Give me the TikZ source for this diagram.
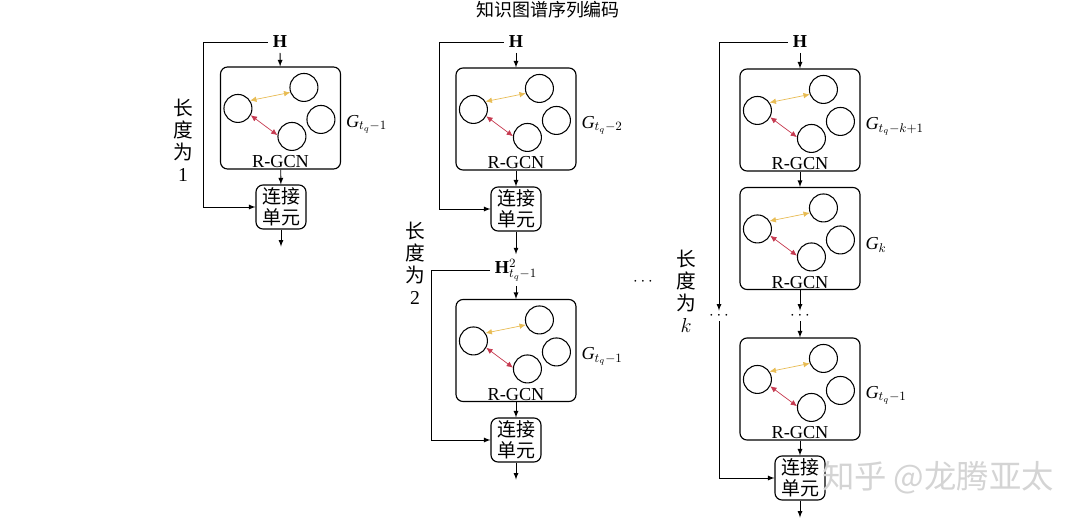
\documentclass[tikz,border=0pt]{standalone}
\usepackage{fontspec}
\setmainfont{Liberation Serif}
\newfontfamily\cjk{Noto Sans CJK SC}
\usetikzlibrary{calc,arrows.meta}
\definecolor{ygold}{RGB}{232,188,84}
\definecolor{rred}{RGB}{198,58,80}
\definecolor{wmark}{RGB}{212,212,212}
\tikzset{
 gbox/.style={draw,line width=0.8pt,rounded corners=5pt,minimum width=30mm,minimum height=25.5mm},
 nd/.style={draw,circle,line width=0.75pt,minimum size=7mm,inner sep=0pt},
 unit/.style={draw,line width=0.8pt,rounded corners=5pt,minimum width=12.5mm,minimum height=11mm,align=center,inner sep=1pt,font=\cjk\fontsize{13.5}{15}\selectfont},
 arr/.style={-latex,line width=0.6pt},
 link/.style={{Latex[length=4.5pt,width=4pt]}-{Latex[length=4.5pt,width=4pt]},line width=0.5pt},
 vlab/.style={align=center,font=\cjk\fontsize{14}{15.6}\selectfont},
 dots/.style={inner sep=1pt}
}
\begin{document}
\begin{tikzpicture}[x=0.25mm,y=-0.25mm,font=\fontsize{13}{15}\selectfont]
\useasboundingbox (0,0) rectangle (1080,520);
\node[font=\cjk\fontsize{12.8}{15}\selectfont] (ttl) at (548,10) {知识图谱序列编码};
% graph boxes
\foreach \n/\x/\y/\l in {g1/280.5/118/{\textit{G}$_{t_q-1}$},g2/516/119/{\textit{G}$_{t_q-2}$},g3/516/350.5/{\textit{G}$_{t_q-1}$},g4/800/120/{\textit{G}$_{t_q-k+1}$},g5/800/238.5/{\textit{G}$_k$},g6/800/389/{\textit{G}$_{t_q-1}$}}{
\node[gbox] (\n) at (\x,\y) {};
\foreach \c/\dx/\dy in {a/18/42,b/84/21,c/101/53,d/72/70}{\node[nd] (\n-\c) at ($(\n.north west)+(\dx,\dy)$) {};}
\draw[link,ygold] (\n-a.33)--(\n-b.200);
\draw[link,rred] (\n-a.-28)--(\n-d.175);
\node[above,inner sep=1pt] at (\n.south) {R-GCN};
\node[anchor=west] at ($(\n.east)+(0,6)$) {\l};
}
% inputs and units
\node (h1) at (280,42) {\textbf{H}};
\node (h2) at (516,42) {\textbf{H}};
\node (h3) at (800,42) {\textbf{H}};
\node (h4) at (516,270) {$\mathbf{H}^{2}_{t_q-1}$};
\node[unit] (j1) at (281,207) {连接\\单元};
\node[unit] (j2) at (516,209) {连接\\单元};
\node[unit] (j3) at (516,440) {连接\\单元};
\node[unit] (j4) at (800,478) {连接\\单元};
\node[dots] (d1) at (800,316) {$\cdots$};
\node[dots] (d2) at (719,316) {$\cdots$};
\node (d3) at (643,282) {$\cdots$};
\node[vlab] (l1) at (183,140) {长\\度\\为\\{\rmfamily 1}};
\node[vlab] (l2) at (415,263) {长\\度\\为\\{\rmfamily 2}};
\node[vlab] (l3) at (686,291) {长\\度\\为\\$k$};
\foreach \j/\o in {j1/o1,j3/o3,j4/o4}{\coordinate (\o) at ($(\j.south)+(0,17)$);}
% connectors
\foreach \a/\b in {h1/g1,g1/j1,h2/g2,g2/j2,j2/h4,h4/g3,g3/j3,h3/g4,g4/g5,g5/d1,d1/g6,g6/j4,j1/o1,j3/o3,j4/o4}{\draw[arr] (\a)--(\b);}
\draw[arr] (h1.west)--++(-65,0)|-(j1.west);
\draw[arr] (h2.west)--++(-65,0)|-(j2.west);
\draw[arr] (h4.west)--++(-59,0)|-(j3.west);
\draw[arr] (h3.west)-|(d2);
\draw[arr] (d2)|-(j4.west);
\node[text=wmark,font=\cjk\fontsize{23}{25}\selectfont] (wm) at (938,478) {知乎 @龙腾亚太};
\end{tikzpicture}
\end{document}
